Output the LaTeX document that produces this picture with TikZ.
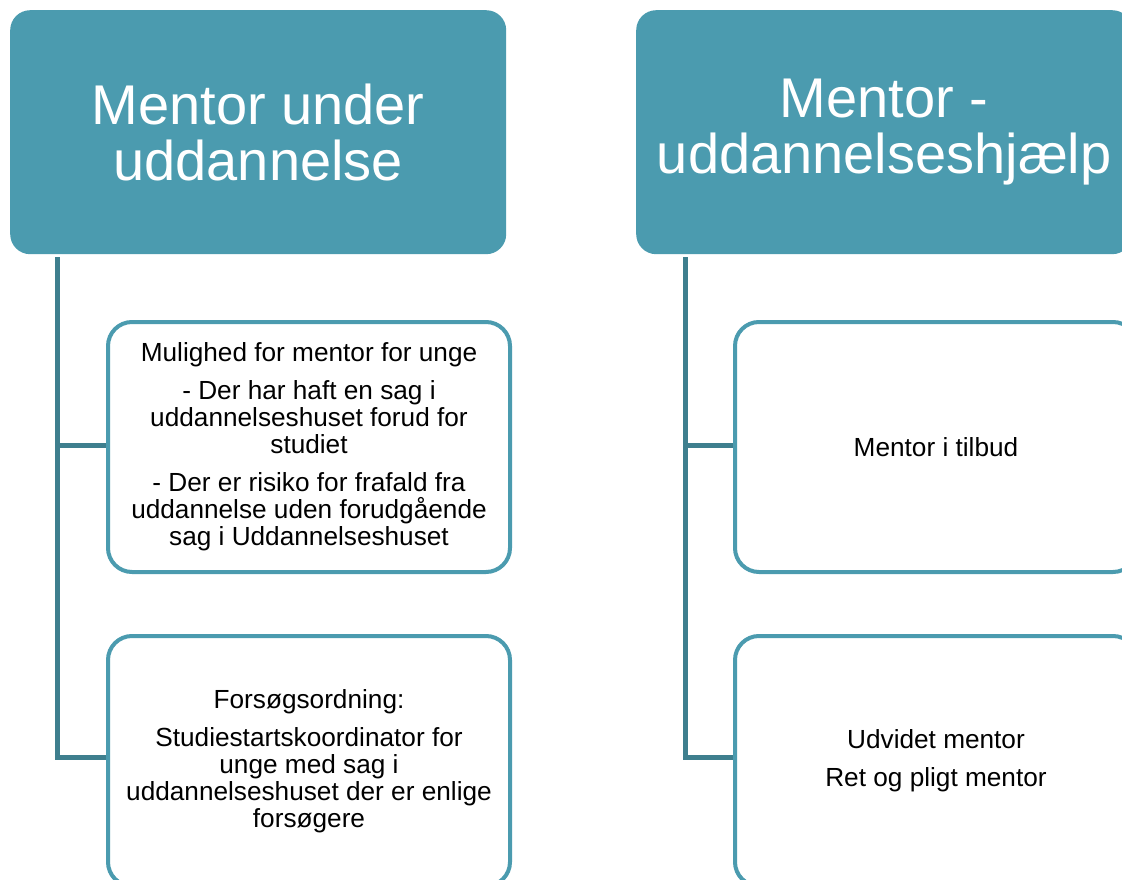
\documentclass[tikz,border=0pt]{standalone}
\usepackage{fontspec}
\setmainfont{Liberation Sans}
\definecolor{teal1}{RGB}{75,155,175}
\definecolor{teal2}{RGB}{62,127,142}
\begin{document}
\begin{tikzpicture}[x=1pt,y=-1pt,
  header/.style={fill=teal1, draw=none, rounded corners=20pt, anchor=north west,
    minimum width=496pt, minimum height=244pt, align=center, text=white,
    font=\fontsize{56}{56}\selectfont, inner sep=0pt},
  child/.style={fill=white, draw=teal1, line width=4pt, rounded corners=24pt, anchor=north west,
    minimum width=402pt, minimum height=250pt, align=center, text=black,
    font=\fontsize{26.2}{27}\selectfont, inner sep=0pt},
  link/.style={draw=teal2, line width=5pt}]
\useasboundingbox (0,0) rectangle (1122,880);
\clip (0,0) rectangle (1122,880);
% left column
\node[header] (h1) at (10,10) {Mentor under\\uddannelse};
\coordinate (t1) at (57,257);
\draw[link] (t1) |- (106,757) coordinate (e2);
\draw[link] (t1 |- 0,445) -- (106,445) coordinate (e1);
\node[child] (c1) at (106,320) {Mulighed for mentor for unge\\[11pt]
- Der har haft en sag i\\uddannelseshuset forud for\\studiet\\[11pt]
- Der er risiko for frafald fra\\uddannelse uden forudgående\\sag i Uddannelseshuset};
\node[child] (c2) at (106,634) {Forsøgsordning:\\[11pt]
Studiestartskoordinator for\\unge med sag i\\uddannelseshuset der er enlige\\forsøgere};
% right column
\node[header] (h2) at (636,10) {Mentor -\\uddannelseshjælp};
\coordinate (t2) at (685,257);
\draw[link] (t2) |- (733,757) coordinate (f2);
\draw[link] (t2 |- 0,445) -- (733,445) coordinate (f1);
\node[child] (d1) at (733,320) {Mentor i tilbud};
\node[child] (d2) at (733,634) {Udvidet mentor\\[11pt]Ret og pligt mentor};
\end{tikzpicture}
\end{document}
